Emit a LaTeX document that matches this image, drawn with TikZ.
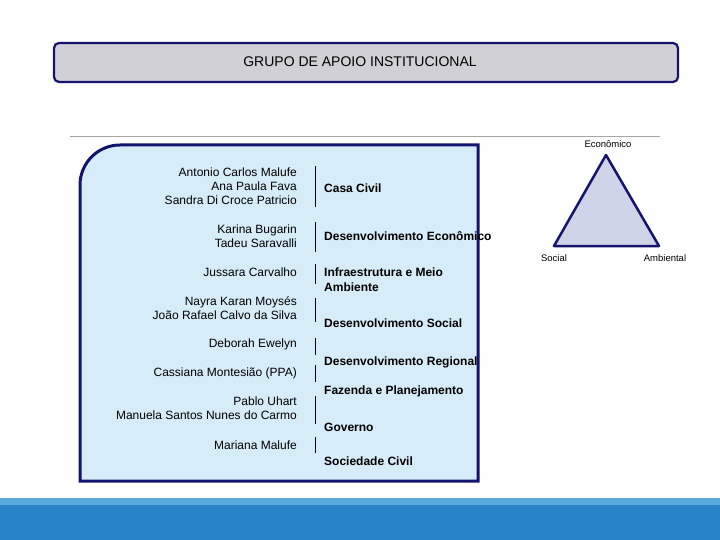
\documentclass[tikz,border=0pt]{standalone}
\usepackage{fontspec}
\setmainfont{Liberation Sans}
\definecolor{navy}{RGB}{20,20,110}
\definecolor{bannerfill}{RGB}{208,208,214}
\definecolor{panelfill}{RGB}{214,236,248}
\definecolor{trifill}{RGB}{208,212,232}
\definecolor{barlight}{RGB}{90,170,225}
\definecolor{bardark}{RGB}{40,132,198}
\begin{document}
\begin{tikzpicture}[x=1pt,y=-1pt,
 nm/.style={anchor=east,align=right,font=\fontsize{12}{14}\selectfont,inner sep=0},
 lb/.style={anchor=west,align=left,font=\bfseries\fontsize{12}{15}\selectfont,inner sep=0},
 sm/.style={font=\fontsize{9.5}{11}\selectfont,inner sep=0},
 sep/.style={line width=0.8pt}]
\useasboundingbox (0,0) rectangle (720,540);
\fill[white] (0,0) rectangle (720,540);
% banner
\draw[line width=2.2pt,draw=navy,fill=bannerfill,rounded corners=5pt] (54,43) rectangle (678,82);
\node[font=\fontsize{14}{16}\selectfont] (title) at (360,62) {GRUPO DE APOIO INSTITUCIONAL};
% line
\draw[gray!70,line width=0.8pt] (70,136) -- (660,136);
% panel
\draw[line width=3pt,draw=navy,fill=panelfill] (80,481) -- (80,185) arc[start angle=180,end angle=270,radius=40] -- (478,145) -- (478,481) -- cycle;
% names
\node[nm] (n1) at (297,186) {Antonio Carlos Malufe\\Ana Paula Fava\\Sandra Di Croce Patricio};
\node[nm] (n2) at (297,236) {Karina Bugarin\\Tadeu Saravalli};
\node[nm] (n3) at (297,272) {Jussara Carvalho};
\node[nm] (n4) at (297,308) {Nayra Karan Moysés\\João Rafael Calvo da Silva};
\node[nm] (n5) at (297,344) {Deborah Ewelyn};
\node[nm] (n6) at (297,373) {Cassiana Montesião (PPA)};
\node[nm] (n7) at (297,408) {Pablo Uhart\\Manuela Santos Nunes do Carmo};
\node[nm] (n8) at (297,445) {Mariana Malufe};
% labels
\node[lb] (l1) at (324,188) {Casa Civil};
\node[lb] (l2) at (324,236) {Desenvolvimento Econômico};
\node[lb] (l3) at (324,280) {Infraestrutura e Meio\\Ambiente};
\node[lb] (l4) at (324,323) {Desenvolvimento Social};
\node[lb] (l5) at (324,362) {Desenvolvimento Regional};
\node[lb] (l6) at (324,391) {Fazenda e Planejamento};
\node[lb] (l7) at (324,427) {Governo};
\node[lb] (l8) at (324,461) {Sociedade Civil};
% separators
\coordinate (a1) at (315,166); \coordinate (b1) at (315,207);
\coordinate (a2) at (315,222); \coordinate (b2) at (315,252);
\coordinate (a3) at (315,264); \coordinate (b3) at (315,284);
\coordinate (a4) at (315,298); \coordinate (b4) at (315,322);
\coordinate (a5) at (315,338); \coordinate (b5) at (315,355);
\coordinate (a6) at (315,365); \coordinate (b6) at (315,382);
\coordinate (a7) at (315,396); \coordinate (b7) at (315,424);
\coordinate (a8) at (315,437); \coordinate (b8) at (315,453);
\foreach \i in {1,...,8} \draw[sep] (a\i) -- (b\i);
% triangle
\coordinate (te) at (606,155); \coordinate (ts) at (554,246); \coordinate (ta) at (659,246);
\draw[line width=2.5pt,line join=round,draw=navy,fill=trifill] (te) -- (ta) -- (ts) -- cycle;
\node[sm] (e) at (608,144) {Econômico};
\node[sm] (s) at (554,258) {Social};
\node[sm] (am) at (665,258) {Ambiental};
% bottom bar
\fill[barlight] (0,498) rectangle (720,505);
\fill[bardark] (0,505) rectangle (720,540);
\end{tikzpicture}
\end{document}
